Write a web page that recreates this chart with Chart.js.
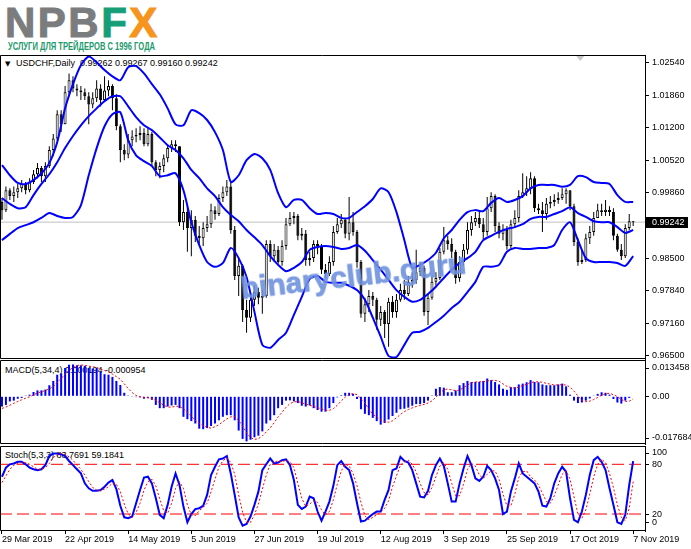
<!DOCTYPE html>
<html>
<head>
<meta charset="utf-8">
<script src="https://cdn.jsdelivr.net/npm/chart.js@4.4.1/dist/chart.umd.min.js"></script>
<style>
html, body { margin: 0; padding: 0; background: #fff; }
body { position: relative; width: 691px; height: 549px; overflow: hidden; font-family: "Liberation Sans", Arial, sans-serif; }
canvas { position: absolute; left: 0; z-index: 2; }
.ttl { position: absolute; z-index: 1; font-size: 9px; line-height: 11px; color: #000; white-space: pre; }
#logo { position: absolute; left: 5px; top: 2px; font: bold 42px/42px "Liberation Sans", Arial, sans-serif; letter-spacing: 2.5px; white-space: nowrap; -webkit-text-stroke: 1px currentColor; }
#logo .g { color: #7b7c7e; }
#logo .f { color: #159e77; }
#logo .x { color: #f7941e; }
#tag { position: absolute; left: 8px; top: 41px; font: bold 10px/12px "Liberation Sans", Arial, sans-serif; color: #1d9a6c; white-space: nowrap; transform: scaleX(0.76); transform-origin: 0 0; }
#wm { position: absolute; z-index: 3; left: 240px; top: 261px; font: bold 30px/30px "Liberation Sans", Arial, sans-serif; color: rgba(112, 146, 222, 0.9); -webkit-text-stroke: 0.8px rgba(112, 146, 222, 0.9); white-space: nowrap; transform: rotate(-6.5deg); transform-origin: 50% 50%; }
#tri { font-family: "DejaVu Sans", sans-serif; font-size: 7px; }
</style>
</head>
<body>
<div id="logo"><span class="g">NPB</span><span class="f">F</span><span class="x">X</span></div>
<div id="tag">УСЛУГИ ДЛЯ ТРЕЙДЕРОВ С 1996 ГОДА</div>

<div class="ttl" style="left:5px;top:58px;"><span id="tri">▼</span></div>
<div class="ttl" style="left:16px;top:58px;">USDCHF,Daily  0.99262 0.99267 0.99160 0.99242</div>
<div class="ttl" style="left:5px;top:365px;">MACD(5,34,4) 0.000194 -0.000954</div>
<div class="ttl" style="left:5px;top:450px;">Stoch(5,3,3) 83.7691 59.1841</div>

<canvas id="cMain" width="691" height="305" style="top:55px"></canvas>
<canvas id="cMacd" width="691" height="85" style="top:360px"></canvas>
<canvas id="cStoch" width="691" height="104" style="top:445px"></canvas>

<div id="wm">binaryclub.guru</div>

<script>
// USDCHF daily, 29 Mar 2019 .. 7 Nov 2019 (161 bars)
const xMin = -0.5;
const xMax = 163;

const dateTickBars = [0, 16, 32, 48, 64, 80, 96, 112, 128, 144, 160];
const dateLabels = ['29 Mar 2019', '22 Apr 2019', '14 May 2019', '5 Jun 2019', '27 Jun 2019',
    '19 Jul 2019', '12 Aug 2019', '3 Sep 2019', '25 Sep 2019', '17 Oct 2019', '7 Nov 2019'];

const opens = [
    0.9966,0.9949,0.9990,0.9978,0.9986,0.9994,1.0003,0.9990,1.0007,1.0023,
    1.0036,1.0019,1.0040,1.0073,1.0097,1.0147,1.0126,1.0192,1.0217,1.0200,
    1.0196,1.0192,1.0184,1.0167,1.0180,1.0200,1.0176,1.0196,1.0205,1.0180,
    1.0122,1.0073,1.0064,1.0093,1.0101,1.0104,1.0108,1.0085,1.0106,1.0048,
    1.0032,1.0040,1.0056,1.0077,1.0085,1.0081,0.9924,0.9945,0.9912,0.9929,
    0.9896,0.9891,0.9912,0.9920,0.9949,0.9941,0.9974,0.9986,0.9998,0.9908,
    0.9813,0.9834,0.9743,0.9727,0.9764,0.9780,0.9768,0.9772,0.9879,0.9854,
    0.9867,0.9842,0.9875,0.9920,0.9933,0.9937,0.9896,0.9900,0.9846,0.9850,
    0.9879,0.9875,0.9826,0.9817,0.9842,0.9904,0.9920,0.9929,0.9900,0.9924,
    0.9904,0.9842,0.9735,0.9755,0.9772,0.9764,0.9723,0.9739,0.9714,0.9760,
    0.9739,0.9764,0.9784,0.9776,0.9801,0.9805,0.9821,0.9830,0.9739,0.9768,
    0.9801,0.9809,0.9863,0.9887,0.9879,0.9863,0.9809,0.9842,0.9867,0.9908,
    0.9924,0.9933,0.9920,0.9904,0.9953,0.9978,0.9916,0.9900,0.9908,0.9875,
    0.9920,0.9933,0.9978,0.9986,0.9994,1.0015,0.9953,0.9949,0.9941,0.9962,
    0.9966,0.9970,0.9974,0.9982,0.9990,0.9957,0.9883,0.9842,0.9846,0.9891,
    0.9904,0.9933,0.9949,0.9945,0.9950,0.9945,0.9896,0.9867,0.9854,0.9912,
    0.99262];
const highs = [
    0.9974,0.9998,0.9994,0.9998,1.0003,1.0011,1.0007,1.0015,1.0032,1.0046,
    1.0040,1.0048,1.0081,1.0106,1.0155,1.0155,1.0205,1.0231,1.0225,1.0209,
    1.0205,1.0200,1.0192,1.0192,1.0217,1.0209,1.0225,1.0217,1.0209,1.0188,
    1.0126,1.0085,1.0106,1.0114,1.0118,1.0122,1.0118,1.0118,1.0110,1.0052,
    1.0048,1.0064,1.0085,1.0093,1.0093,1.0081,0.9970,0.9957,0.9949,0.9937,
    0.9916,0.9924,0.9937,0.9962,0.9957,0.9982,0.9998,1.0011,1.0007,0.9916,
    0.9850,0.9838,0.9764,0.9776,0.9793,0.9789,0.9784,0.9887,0.9887,0.9879,
    0.9875,0.9887,0.9933,0.9945,0.9945,0.9941,0.9912,0.9908,0.9863,0.9887,
    0.9887,0.9879,0.9838,0.9854,0.9916,0.9933,0.9941,0.9933,0.9976,0.9945,
    0.9908,0.9846,0.9768,0.9784,0.9780,0.9768,0.9751,0.9743,0.9768,0.9772,
    0.9776,0.9797,0.9805,0.9813,0.9821,0.9867,0.9842,0.9834,0.9776,0.9813,
    0.9821,0.9871,0.9914,0.9896,0.9891,0.9867,0.9854,0.9879,0.9924,0.9937,
    0.9945,0.9945,0.9933,0.9976,0.9986,0.9982,0.9924,0.9920,0.9916,0.9929,
    0.9949,0.9990,1.0025,1.0019,1.0027,1.0019,0.9962,0.9966,0.9974,0.9978,
    0.9982,0.9986,0.9994,0.9994,0.9990,0.9962,0.9891,0.9867,0.9900,0.9916,
    0.9945,0.9962,0.9962,0.9970,0.9957,0.9953,0.9900,0.9879,0.9920,0.9941,
    0.99267];
const lows = [
    0.9929,0.9945,0.9970,0.9966,0.9974,0.9986,0.9982,0.9986,1.0003,1.0015,
    1.0007,1.0007,1.0036,1.0060,1.0093,1.0110,1.0126,1.0184,1.0192,1.0184,
    1.0176,1.0176,1.0126,1.0159,1.0172,1.0163,1.0172,1.0184,1.0155,1.0114,
    1.0048,1.0052,1.0056,1.0081,1.0089,1.0093,1.0081,1.0081,1.0040,1.0019,
    1.0015,1.0027,1.0048,1.0069,1.0069,0.9916,0.9908,0.9863,0.9854,0.9883,
    0.9879,0.9875,0.9904,0.9912,0.9929,0.9937,0.9966,0.9978,0.9900,0.9805,
    0.9772,0.9718,0.9696,0.9718,0.9751,0.9755,0.9735,0.9768,0.9842,0.9842,
    0.9834,0.9834,0.9867,0.9916,0.9920,0.9887,0.9887,0.9834,0.9834,0.9842,
    0.9858,0.9817,0.9809,0.9813,0.9834,0.9900,0.9912,0.9891,0.9887,0.9896,
    0.9830,0.9727,0.9718,0.9739,0.9751,0.9702,0.9710,0.9685,0.9667,0.9727,
    0.9727,0.9760,0.9764,0.9772,0.9789,0.9797,0.9813,0.9731,0.9712,0.9764,
    0.9793,0.9805,0.9858,0.9867,0.9850,0.9797,0.9801,0.9834,0.9858,0.9896,
    0.9916,0.9912,0.9887,0.9896,0.9945,0.9904,0.9891,0.9887,0.9867,0.9871,
    0.9912,0.9924,0.9974,0.9978,0.9982,0.9945,0.9941,0.9904,0.9929,0.9953,
    0.9957,0.9962,0.9970,0.9962,0.9949,0.9875,0.9834,0.9838,0.9842,0.9879,
    0.9896,0.9933,0.9937,0.9937,0.9937,0.9887,0.9863,0.9846,0.9850,0.9908,
    0.99160];
const closes = [
    0.9949,0.9990,0.9978,0.9986,0.9994,1.0003,0.9990,1.0007,1.0023,1.0036,
    1.0019,1.0040,1.0073,1.0097,1.0147,1.0126,1.0192,1.0217,1.0200,1.0196,
    1.0192,1.0184,1.0167,1.0180,1.0200,1.0176,1.0196,1.0205,1.0180,1.0122,
    1.0073,1.0064,1.0093,1.0101,1.0104,1.0108,1.0085,1.0106,1.0048,1.0032,
    1.0040,1.0056,1.0077,1.0085,1.0081,0.9924,0.9945,0.9912,0.9929,0.9896,
    0.9891,0.9912,0.9920,0.9949,0.9941,0.9974,0.9986,0.9998,0.9908,0.9813,
    0.9834,0.9743,0.9727,0.9764,0.9780,0.9768,0.9772,0.9879,0.9854,0.9867,
    0.9842,0.9875,0.9920,0.9933,0.9937,0.9896,0.9900,0.9846,0.9850,0.9879,
    0.9875,0.9826,0.9817,0.9842,0.9904,0.9920,0.9929,0.9900,0.9924,0.9904,
    0.9842,0.9735,0.9755,0.9772,0.9764,0.9723,0.9739,0.9714,0.9760,0.9739,
    0.9764,0.9784,0.9776,0.9801,0.9805,0.9821,0.9830,0.9739,0.9768,0.9801,
    0.9809,0.9863,0.9887,0.9879,0.9863,0.9809,0.9842,0.9867,0.9908,0.9924,
    0.9933,0.9920,0.9904,0.9953,0.9978,0.9916,0.9900,0.9908,0.9875,0.9920,
    0.9933,0.9978,0.9986,0.9994,1.0015,0.9953,0.9949,0.9941,0.9962,0.9966,
    0.9970,0.9974,0.9982,0.9990,0.9957,0.9883,0.9842,0.9846,0.9891,0.9904,
    0.9933,0.9949,0.9945,0.9950,0.9945,0.9896,0.9867,0.9854,0.9912,0.99262,
    0.99242];
const lastClose = 0.99242;

// Bollinger bands, read every second bar
const bandStep = 2;
const bbUpper = [
    1.0042,1.0021,1.0005,1.0003,1.0011,1.0025,1.0046,1.0089,1.0159,1.0209,
    1.0248,1.0266,1.0254,1.0238,1.0225,1.0217,1.0244,1.0246,1.0231,1.0209,
    1.0188,1.0159,1.0126,1.0124,1.0155,1.0149,1.0135,1.0110,1.0073,1.0007,
    1.0021,1.0052,1.0065,1.0056,1.0032,0.9984,0.9955,0.9970,0.9970,0.9953,
    0.9941,0.9943,0.9941,0.9933,0.9933,0.9945,0.9957,0.9972,0.9994,0.9986,
    0.9945,0.9887,0.9830,0.9836,0.9846,0.9861,0.9891,0.9908,0.9929,0.9945,
    0.9949,0.9947,0.9964,0.9974,0.9966,0.9970,0.9978,0.9994,1.0001,1.0001,
    1.0001,0.9997,1.0001,1.0019,1.0017,1.0007,1.0005,1.0003,0.9980,0.9966,0.9966];
const bbMiddle = [
    0.9974,0.9962,0.9953,0.9955,0.9980,1.0003,1.0023,1.0048,1.0077,1.0102,
    1.0124,1.0143,1.0159,1.0174,1.0184,1.0184,1.0163,1.0141,1.0124,1.0114,
    1.0099,1.0083,1.0073,1.0056,1.0032,1.0015,0.9994,0.9978,0.9955,0.9939,
    0.9926,0.9908,0.9893,0.9877,0.9854,0.9836,0.9823,0.9830,0.9842,0.9867,
    0.9873,0.9875,0.9873,0.9869,0.9871,0.9877,0.9865,0.9846,0.9826,0.9805,
    0.9784,0.9770,0.9760,0.9764,0.9776,0.9791,0.9809,0.9826,0.9840,0.9850,
    0.9863,0.9887,0.9896,0.9904,0.9910,0.9914,0.9920,0.9931,0.9935,0.9935,
    0.9941,0.9947,0.9955,0.9943,0.9935,0.9926,0.9924,0.9924,0.9914,0.9902,0.9908];
const bbLower = [
    0.9887,0.9900,0.9912,0.9918,0.9924,0.9933,0.9943,0.9937,0.9933,0.9935,
    0.9959,1.0021,1.0077,1.0122,1.0147,1.0151,1.0093,1.0062,1.0050,1.0040,
    1.0019,1.0021,1.0025,0.9990,0.9924,0.9877,0.9842,0.9832,0.9840,0.9871,
    0.9850,0.9811,0.9739,0.9671,0.9665,0.9681,0.9696,0.9733,0.9770,0.9807,
    0.9813,0.9801,0.9799,0.9799,0.9793,0.9784,0.9764,0.9727,0.9688,0.9648,
    0.9646,0.9671,0.9696,0.9698,0.9706,0.9718,0.9731,0.9747,0.9760,0.9780,
    0.9801,0.9832,0.9832,0.9836,0.9863,0.9871,0.9869,0.9869,0.9871,0.9871,
    0.9877,0.9908,0.9924,0.9887,0.9850,0.9842,0.9842,0.9842,0.9840,0.9834,0.9854];

const macdHist = [
    -0.0038,-0.0032,-0.0019,-0.0016,-0.0009,-0.0006,0.0003,0.0006,0.0016,0.0022,
    0.0022,0.0025,0.0041,0.0057,0.0080,0.0085,0.0105,0.0117,0.0118,0.0115,
    0.0115,0.0113,0.0105,0.0103,0.0105,0.0092,0.0082,0.0080,0.0072,0.0057,
    0.0042,0.0013,0.0003,-0.0001,-0.0003,-0.0004,-0.0009,-0.0006,-0.0013,-0.0032,
    -0.0044,-0.0044,-0.0038,-0.0034,-0.0032,-0.0044,-0.0076,-0.0085,-0.0092,-0.0101,
    -0.0120,-0.0122,-0.0118,-0.0110,-0.0101,-0.0089,-0.0076,-0.0070,-0.0070,-0.0089,
    -0.0127,-0.0158,-0.0167,-0.0161,-0.0152,-0.0146,-0.0130,-0.0101,-0.0089,-0.0070,
    -0.0044,-0.0032,-0.0016,-0.0015,-0.0019,-0.0025,-0.0035,-0.0038,-0.0034,-0.0044,
    -0.0051,-0.0057,-0.0057,-0.0044,-0.0025,-0.0004,0.0004,0.0013,0.0013,0.0009,
    -0.0010,-0.0048,-0.0065,-0.0070,-0.0080,-0.0092,-0.0105,-0.0099,-0.0086,-0.0073,
    -0.0061,-0.0048,-0.0046,-0.0042,-0.0035,-0.0029,-0.0029,-0.0025,-0.0016,0.0003,
    0.0028,0.0034,0.0032,0.0015,0.0015,0.0022,0.0041,0.0049,0.0057,0.0053,
    0.0053,0.0053,0.0057,0.0066,0.0060,0.0053,0.0044,0.0028,0.0024,0.0034,
    0.0034,0.0044,0.0047,0.0052,0.0060,0.0053,0.0052,0.0044,0.0041,0.0041,
    0.0041,0.0044,0.0047,0.0037,0.0006,-0.0016,-0.0025,-0.0023,-0.0016,-0.0008,
    0.0001,0.0009,0.0015,0.0013,0.0006,-0.0010,-0.0023,-0.0027,-0.0016,-0.0006,
    0.000194];
const macdSignal = [
    -0.0045,-0.0040,-0.0033,-0.0026,-0.0019,-0.0013,-0.0007,-0.0002,0.0005,0.0012,
    0.0017,0.0021,0.0028,0.0036,0.0051,0.0066,0.0082,0.0097,0.0106,0.0114,
    0.0116,0.0115,0.0112,0.0109,0.0107,0.0101,0.0096,0.0090,0.0082,0.0073,
    0.0063,0.0046,0.0029,0.0014,0.0003,-0.0001,-0.0004,-0.0006,-0.0008,-0.0015,
    -0.0024,-0.0033,-0.0040,-0.0040,-0.0037,-0.0037,-0.0047,-0.0059,-0.0074,-0.0089,
    -0.0100,-0.0109,-0.0115,-0.0118,-0.0113,-0.0105,-0.0094,-0.0084,-0.0076,-0.0076,
    -0.0089,-0.0111,-0.0135,-0.0153,-0.0160,-0.0157,-0.0147,-0.0132,-0.0117,-0.0098,
    -0.0076,-0.0059,-0.0041,-0.0027,-0.0021,-0.0019,-0.0024,-0.0029,-0.0033,-0.0038,
    -0.0042,-0.0047,-0.0052,-0.0052,-0.0046,-0.0033,-0.0017,-0.0003,0.0007,0.0010,
    0.0006,-0.0009,-0.0025,-0.0048,-0.0066,-0.0077,-0.0087,-0.0094,-0.0096,-0.0091,
    -0.0080,-0.0067,-0.0057,-0.0049,-0.0043,-0.0038,-0.0034,-0.0030,-0.0025,-0.0017,
    -0.0003,0.0012,0.0024,0.0027,0.0024,0.0021,0.0023,0.0032,0.0042,0.0050,
    0.0053,0.0054,0.0054,0.0057,0.0059,0.0059,0.0056,0.0046,0.0037,0.0033,
    0.0030,0.0034,0.0040,0.0044,0.0051,0.0053,0.0054,0.0052,0.0048,0.0045,
    0.0042,0.0042,0.0043,0.0042,0.0034,0.0019,0.0001,-0.0015,-0.0020,-0.0018,
    -0.0012,-0.0004,0.0004,0.0010,0.0011,0.0006,-0.0001,-0.0012,-0.0019,-0.0018,
    -0.00095];

const stochMain = [
    65,76,80,81,83,83,80,76,74,73, 74,79,90,93,93,92,90,84,79,74,
    69,57,51,48,48,49,53,58,61,50, 30,16,15,17,33,49,64,65,57,39,
    19,15,31,53,69,55,29,10,20,26, 27,30,43,67,77,86,87,90,69,43,
    16,6,8,17,31,47,73,80,87,81, 82,85,86,79,61,31,26,29,41,39,
    23,12,23,35,54,79,84,77,73,57, 33,11,12,16,20,23,23,37,49,73,
    75,89,84,82,73,57,41,40,48,67, 79,87,78,57,35,35,57,75,90,79,
    63,60,65,78,73,63,49,20,23,47, 63,81,69,65,61,57,47,30,29,39,
    57,69,77,71,39,13,10,23,43,67, 85,89,83,73,51,31,10,8,19,55,
    83.77];
const stochSignal = [
    58,66,74,79,81,82,82,80,77,74, 74,76,81,88,92,93,92,89,85,79,
    74,67,59,52,49,48,50,53,57,56, 47,32,20,16,22,33,49,59,62,54,
    38,24,21,33,51,59,51,31,19,18, 24,28,33,47,62,77,84,88,82,68,
    43,22,10,10,19,32,50,67,80,83, 84,83,85,83,76,57,39,29,32,36,
    34,25,19,23,37,56,72,80,78,69, 54,34,18,13,16,19,22,27,36,53,
    66,79,83,85,80,71,57,46,43,52, 65,78,82,74,57,42,42,56,74,81,
    78,67,63,68,72,72,62,44,30,30, 44,64,71,72,65,61,55,45,35,33,
    42,55,68,72,62,41,20,15,25,44, 65,80,86,82,69,52,31,16,12,27,
    59.18];
const stochLevels = [20, 80];

const priceTicks = [0.9650, 0.9716, 0.9784, 0.9850, 0.9986, 1.0052, 1.0120, 1.0186, 1.0254];
const priceMin = 0.96418, priceMax = 1.02691;
const macdMin = -0.017684, macdMax = 0.013458;
const macdLabels = ['-0.017684', '0.00', '0.013458'];
const stochMin = -0.5, stochMax = 102.1;
const stochLabels = ['0', '20', '80', '100'];
const shiftMarkerBar = 146.6;

Chart.defaults.font.family = '"Liberation Sans", Arial, sans-serif';
Chart.defaults.font.size = 9;
Chart.defaults.color = '#000';

const AXIS_W = 46;

function rightAxis(min, max, buildTicks, labelFn) {
    return {
        position: 'right', min: min, max: max,
        afterFit: s => { s.width = AXIS_W; s.paddingTop = 0; s.paddingBottom = 0; },
        afterBuildTicks: s => { s.ticks = buildTicks().map(v => ({ value: v })); },
        ticks: { autoSkip: false, padding: 3, color: '#000', callback: labelFn },
        grid: { drawOnChartArea: false, drawTicks: true, tickLength: 4, color: '#000' },
        border: { display: true, color: '#000' }
    };
}

const hiddenX = { type: 'linear', min: xMin, max: xMax, offset: false, display: false };

// black frame round each panel
const framePlugin = {
    id: 'frame',
    afterDatasetsDraw(chart) {
        const { ctx, chartArea: a } = chart;
        ctx.save();
        ctx.strokeStyle = '#000';
        ctx.lineWidth = 1;
        ctx.beginPath();
        ctx.moveTo(a.right, a.top + 0.5);
        ctx.lineTo(a.left + 0.5, a.top + 0.5);
        ctx.lineTo(a.left + 0.5, a.bottom - 0.5);
        ctx.lineTo(a.right, a.bottom - 0.5);
        ctx.stroke();
        ctx.restore();
    }
};

// current price box and chart shift marker on the price panel
const pricePlugin = {
    id: 'priceBox',
    afterDraw(chart) {
        const { ctx, chartArea: a, scales } = chart;
        const y = Math.round(scales.y.getPixelForValue(lastClose));
        ctx.save();
        ctx.fillStyle = '#000';
        ctx.fillRect(a.right + 1, y - 5, 42, 11);
        ctx.fillStyle = '#fff';
        ctx.font = '9px "Liberation Sans", Arial, sans-serif';
        ctx.textBaseline = 'middle';
        ctx.fillText(lastClose.toFixed(5), a.right + 7, y + 0.5);
        const sx = scales.x.getPixelForValue(shiftMarkerBar);
        ctx.fillStyle = '#c8c8c8';
        ctx.beginPath();
        ctx.moveTo(sx - 4, a.top + 1);
        ctx.lineTo(sx + 4, a.top + 1);
        ctx.lineTo(sx, a.top + 6);
        ctx.closePath();
        ctx.fill();
        ctx.restore();
    }
};

const baseOptions = {
    responsive: false,
    animation: false,
    events: [],
    plugins: { legend: { display: false }, tooltip: { enabled: false } }
};

function bandLine(values) {
    return {
        type: 'line',
        data: values.map((v, k) => ({ x: k * bandStep, y: v })),
        borderColor: '#0000ff', borderWidth: 2, pointRadius: 0, tension: 0.25, order: 1
    };
}

const candleFill = closes.map((c, i) => c >= opens[i] ? '#ffffff' : '#000000');

new Chart(document.getElementById('cMain'), {
    type: 'bar',
    data: {
        datasets: [
            {
                type: 'line',
                data: [{ x: xMin, y: lastClose }, { x: xMax, y: lastClose }],
                borderColor: '#c0c0c0', borderWidth: 1, pointRadius: 0, order: 6
            },
            {
                type: 'bar',
                data: highs.map((h, i) => ({ x: i, y: [lows[i], h] })),
                backgroundColor: '#000', barThickness: 1, grouped: false, inflateAmount: 0, order: 5
            },
            {
                type: 'bar',
                data: opens.map((o, i) => ({ x: i, y: [o, closes[i]] })),
                backgroundColor: candleFill, borderColor: '#000', borderWidth: 1, borderSkipped: false,
                barThickness: 3, minBarLength: 1, grouped: false, inflateAmount: 0, order: 4
            },
            bandLine(bbUpper),
            bandLine(bbMiddle),
            bandLine(bbLower)
        ]
    },
    options: Object.assign({}, baseOptions, {
        layout: { padding: { left: 0, right: 0, top: 0, bottom: 1 } },
        scales: {
            x: hiddenX,
            y: rightAxis(priceMin, priceMax, () => priceTicks, v => v.toFixed(5))
        }
    }),
    plugins: [framePlugin, pricePlugin]
});

// MT4 draws the edge labels of a subwindow slightly inside the frame
const macdStep = (macdMax - macdMin) / 84;
new Chart(document.getElementById('cMacd'), {
    type: 'bar',
    data: {
        datasets: [
            {
                type: 'bar',
                data: macdHist.map((v, i) => ({ x: i, y: v })),
                backgroundColor: '#0000ff', barThickness: 2, inflateAmount: 0, order: 2
            },
            {
                type: 'line',
                data: macdSignal.map((v, i) => ({ x: i, y: v })),
                borderColor: '#ff0000', borderWidth: 1, borderDash: [2, 2], pointRadius: 0, order: 1
            }
        ]
    },
    options: Object.assign({}, baseOptions, {
        layout: { padding: { left: 0, right: 0, top: 0, bottom: 1 } },
        scales: {
            x: hiddenX,
            y: rightAxis(macdMin, macdMax,
                () => [macdMin + 6 * macdStep, 0, macdMax - 8 * macdStep],
                (v, i) => macdLabels[i])
        }
    }),
    plugins: [framePlugin]
});

const stochStep = (stochMax - stochMin) / 85;
function levelLine(v) {
    return {
        type: 'line',
        data: [{ x: xMin, y: v }, { x: xMax, y: v }],
        borderColor: '#ff0000', borderWidth: 1, borderDash: [12, 5], pointRadius: 0, order: 3
    };
}
new Chart(document.getElementById('cStoch'), {
    type: 'line',
    data: {
        datasets: [
            levelLine(stochLevels[0]),
            levelLine(stochLevels[1]),
            {
                data: stochMain.map((v, i) => ({ x: i, y: v })),
                borderColor: '#0000ff', borderWidth: 2, pointRadius: 0, order: 2
            },
            {
                data: stochSignal.map((v, i) => ({ x: i, y: v })),
                borderColor: '#ff0000', borderWidth: 1, borderDash: [2, 2], pointRadius: 0, order: 1
            }
        ]
    },
    options: Object.assign({}, baseOptions, {
        layout: { padding: { left: 0, right: 0, top: 1, bottom: 0 } },
        scales: {
            x: {
                type: 'linear', min: xMin, max: xMax, offset: false, position: 'bottom',
                afterBuildTicks: s => { s.ticks = dateTickBars.map(v => ({ value: v })); },
                afterFit: s => { s.height = 18; s.paddingLeft = 0; s.paddingRight = 0; },
                ticks: { autoSkip: false, maxRotation: 0, minRotation: 0, align: 'start', padding: 0,
                         color: '#000', callback: (v, i) => dateLabels[i] },
                grid: { drawOnChartArea: false, drawTicks: true, tickLength: 3, color: '#000' },
                border: { display: false }
            },
            y: rightAxis(stochMin, stochMax,
                () => [stochMin + 8.5 * stochStep, 20, 80, stochMax - 7 * stochStep],
                (v, i) => stochLabels[i])
        }
    }),
    plugins: [framePlugin]
});
</script>
</body>
</html>
